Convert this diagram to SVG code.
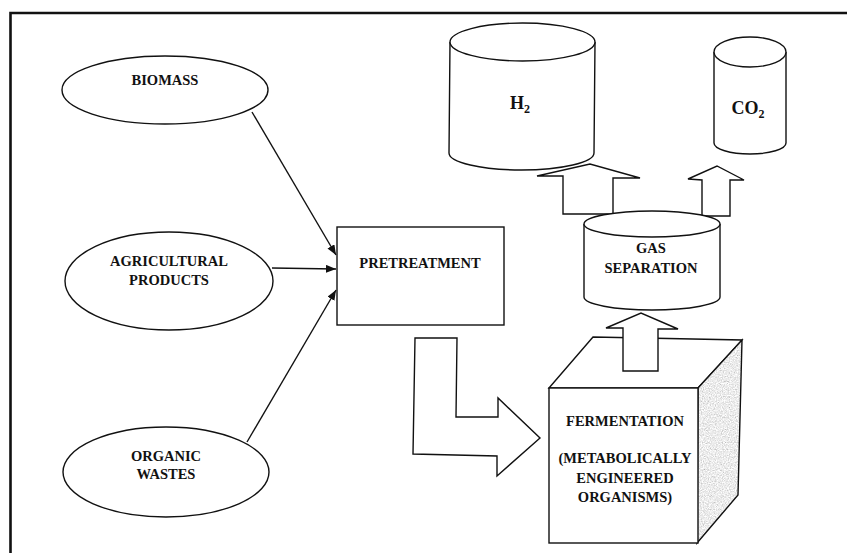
<svg xmlns="http://www.w3.org/2000/svg" width="847" height="553" viewBox="0 0 847 553">
<style>
.ln{fill:none;stroke:#111;stroke-width:1.4}
.sh{fill:#fff;stroke:#111;stroke-width:1.4;stroke-linejoin:miter}
.t{font-family:"Liberation Serif","Times New Roman",serif;font-weight:bold;font-size:14.5px;fill:#111;text-anchor:middle}
.big{font-size:18px}
</style>
<defs>
<marker id="ah" markerUnits="userSpaceOnUse" markerWidth="11" markerHeight="9" refX="10" refY="4" orient="auto">
<path d="M0,0 L10,4 L0,8 z" fill="#111"/>
</marker>
<filter id="grain" x="0" y="0" width="100%" height="100%">
<feTurbulence type="fractalNoise" baseFrequency="0.85" numOctaves="2" seed="4" result="n"/>
<feColorMatrix in="n" type="matrix" values="0.45 0.45 0.45 0 0.16  0.45 0.45 0.45 0 0.16  0.45 0.45 0.45 0 0.16  0 0 0 0 1" result="g"/>
<feComposite in="g" in2="SourceGraphic" operator="in"/>
</filter>
</defs>
<rect width="847" height="553" fill="#fff"/>
<path d="M10.5,553 L10.5,13 L847,13" fill="none" stroke="#111" stroke-width="2.6"/>

<g id="biomass">
<ellipse class="sh" cx="165" cy="90" rx="103" ry="34"/>
<text class="t" x="165" y="85">BIOMASS</text>
</g>
<g id="agricultural-products">
<ellipse class="sh" cx="169" cy="281" rx="104" ry="49"/>
<text class="t" x="169" y="266">AGRICULTURAL</text>
<text class="t" x="169" y="285">PRODUCTS</text>
</g>
<g id="organic-wastes">
<ellipse class="sh" cx="166" cy="472" rx="103" ry="45"/>
<text class="t" x="166" y="461">ORGANIC</text>
<text class="t" x="166" y="479">WASTES</text>
</g>
<g id="pretreatment">
<rect class="sh" x="337" y="227" width="167" height="98"/>
<text class="t" x="420" y="268">PRETREATMENT</text>
</g>
<g id="fermentation">
<polygon class="sh" points="549,388 593,337 742,340 698,388"/>
<polygon fill="#fff" points="698,388 742,340 738,495 697,543"/>
<polygon fill="#fff" filter="url(#grain)" points="698,388 742,340 738,495 697,543"/>
<polygon class="ln" points="698,388 742,340 738,495 697,543"/>
<rect class="sh" x="549" y="388" width="149" height="155"/>
<text class="t" x="625" y="426">FERMENTATION</text>
<text class="t" x="625" y="463">(METABOLICALLY</text>
<text class="t" x="625" y="483">ENGINEERED</text>
<text class="t" x="625" y="502">ORGANISMS)</text>
</g>

<g id="connectors">
<line class="ln" x1="252" y1="112" x2="336" y2="255" marker-end="url(#ah)"/>
<line class="ln" x1="272" y1="268" x2="336" y2="269" marker-end="url(#ah)"/>
<line class="ln" x1="247" y1="442" x2="336" y2="290" marker-end="url(#ah)"/>
<polygon class="sh" points="415,338 457,338 456,417 498,417 498,398 540,438 497,476 497,456 413,454"/>
<polygon class="sh" points="623,371 623,328 606,328 641,313 678,329 658,329 658,371"/>
<polygon class="sh" points="563,214 563,176 537,176 590,164 640,178 613,178 613,214"/>
<polygon class="sh" points="702,216 702,180 688,179 717,166 744,180 730,180 730,216"/>
</g>

<g id="gas-separation">
<path class="sh" d="M584,224 L584,297 A68,13 0 0 0 720,297 L720,224"/>
<ellipse class="sh" cx="652" cy="224" rx="68" ry="13"/>
<text class="t" x="651" y="253">GAS</text>
<text class="t" x="651" y="273">SEPARATION</text>
</g>
<g id="h2">
<path class="sh" d="M450,42 L449,153 A72.5,17 0 0 0 594,153 L595,42"/>
<ellipse class="sh" cx="522.5" cy="42" rx="72.5" ry="19"/>
<text class="t big" x="520" y="109">H<tspan font-size="12" dy="4">2</tspan></text>
</g>
<g id="co2">
<path class="sh" d="M714,52 L714,143 A36,11 0 0 0 786,143 L786,52"/>
<ellipse class="sh" cx="750" cy="52" rx="36" ry="15"/>
<text class="t big" x="748" y="114">CO<tspan font-size="12" dy="4">2</tspan></text>
</g>
</svg>
